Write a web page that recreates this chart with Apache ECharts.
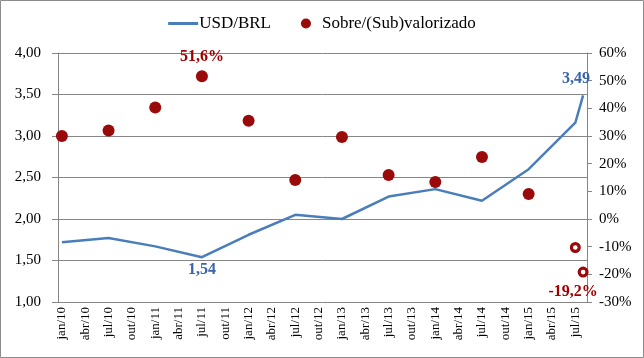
<!DOCTYPE html>
<html><head><meta charset="utf-8">
<script src="https://cdn.jsdelivr.net/npm/echarts@6/dist/echarts.min.js"></script>
<style>html,body{margin:0;padding:0;background:#fff}#c{width:644px;height:358px}</style>
</head><body><div id="c"></div>
<script>
// Monthly category axis (jan/10 .. ago/15)
const monthNames = ['jan','fev','mar','abr','mai','jun','jul','ago','set','out','nov','dez'];
const years = ['10','11','12','13','14','15'];
const categories = [];
years.forEach(y => monthNames.forEach((m, i) => { if (!(y === '15' && i > 7)) categories.push(m + '/' + y); }));

// USD/BRL exchange rate
const rateDates = ['jan/10','jul/10','jan/11','jul/11','jan/12','jul/12','jan/13','jul/13','jan/14','jul/14','jan/15','jul/15','ago/15'];
const rateValues = [1.72,1.77,1.67,1.54,1.81,2.05,2.00,2.27,2.36,2.22,2.60,3.16,3.49];

// Over/(Under) valuation, %
const valDates = ['jan/10','jul/10','jan/11','jul/11','jan/12','jul/12','jan/13','jul/13','jan/14','jul/14','jan/15','jul/15','ago/15'];
const valValues = [30.0,32.0,40.3,51.6,35.5,14.1,29.6,15.9,13.4,22.4,9.0,-10.3,-19.2];
const valHollow = ['jul/15','ago/15'];

const FONT = '"Liberation Serif","Times New Roman",serif';
const BLUE = '#4a7ebb';
const RED = '#9b0a0a';
const GRAY = '#868686';
const RING = 'path://M0,-5A5,5 0 1,1 0,5A5,5 0 1,1 0,-5ZM0,-2.1A2.1,2.1 0 1,0 0,2.1A2.1,2.1 0 1,0 0,-2.1Z';

const rateData = rateDates.map((d, i) => {
  const item = { value: [d, rateValues[i]] };
  if (d === 'jul/11') item.label = { show: true, position: 'bottom', distance: 5 };
  if (d === 'ago/15') item.label = { show: true, position: 'top', offset: [-7, -3] };
  return item;
});
const valData = valDates.map((d, i) => {
  const item = { value: [d, valValues[i]] };
  if (valHollow.includes(d)) { item.symbol = RING; item.symbolSize = 11; }
  if (d === 'jul/11') item.label = { show: true, position: 'top', distance: 5 };
  if (d === 'ago/15') item.label = { show: true, position: 'bottom', offset: [-10, 1] };
  return item;
});

const chart = echarts.init(document.getElementById('c'));
chart.setOption({
  animation: false,
  textStyle: { fontFamily: FONT },
  graphic: [{ type: 'rect', shape: { x: 0.5, y: 0.5, width: 643, height: 357 }, style: { fill: 'none', stroke: '#8c8c8c', lineWidth: 1 }, silent: true }],
  legend: {
    top: 10, left: 'center', itemGap: 30, itemWidth: 30, itemHeight: 10,
    textStyle: { fontFamily: FONT, fontSize: 17, color: '#000', padding: [0, 0, 0, -4] },
    data: [
      { name: 'USD/BRL', icon: 'path://M0,0L30,0L30,3L0,3Z' },
      { name: 'Sobre/(Sub)valorizado', icon: 'circle' }
    ]
  },
  grid: { left: 58, right: 57, top: 53, bottom: 56 },
  xAxis: {
    type: 'category', data: categories, boundaryGap: true,
    axisLine: { lineStyle: { color: GRAY } },
    axisTick: { interval: 2, alignWithLabel: false, length: 5, lineStyle: { color: GRAY } },
    axisLabel: { interval: 2, rotate: 90, fontFamily: FONT, fontSize: 13, color: '#000', margin: 5 }
  },
  yAxis: [
    {
      type: 'value', min: 1, max: 4, interval: 0.5,
      axisLine: { show: true, lineStyle: { color: GRAY } },
      axisTick: { show: true, length: 6, lineStyle: { color: GRAY } },
      splitLine: { lineStyle: { color: GRAY } },
      axisLabel: { fontFamily: FONT, fontSize: 15, color: '#000', margin: 17, formatter: v => v.toFixed(2).replace('.', ',') }
    },
    {
      type: 'value', min: -30, max: 60, interval: 10, position: 'right',
      axisLine: { show: true, lineStyle: { color: GRAY } },
      axisTick: { show: true, length: 5, lineStyle: { color: GRAY } },
      splitLine: { show: false },
      axisLabel: { fontFamily: FONT, fontSize: 15, color: '#000', margin: 12, formatter: v => v + '%' }
    }
  ],
  series: [
    {
      name: 'USD/BRL', type: 'line', yAxisIndex: 0, data: rateData,
      symbol: 'circle', symbolSize: 0.1, showSymbol: true,
      lineStyle: { color: BLUE, width: 2.5 }, itemStyle: { color: BLUE },
      label: { show: false, fontFamily: FONT, fontSize: 16, fontWeight: 'bold', color: '#3a66a8', formatter: p => p.value[1].toFixed(2).replace('.', ',') },
      z: 3
    },
    {
      name: 'Sobre/(Sub)valorizado', type: 'scatter', yAxisIndex: 1, data: valData,
      symbol: 'circle', symbolSize: 12,
      itemStyle: { color: RED, opacity: 1 },
      label: { show: false, fontFamily: FONT, fontSize: 16, fontWeight: 'bold', color: '#a00000', formatter: p => p.value[1].toFixed(1).replace('.', ',') + '%' },
      z: 4
    }
  ]
});
</script></body></html>
